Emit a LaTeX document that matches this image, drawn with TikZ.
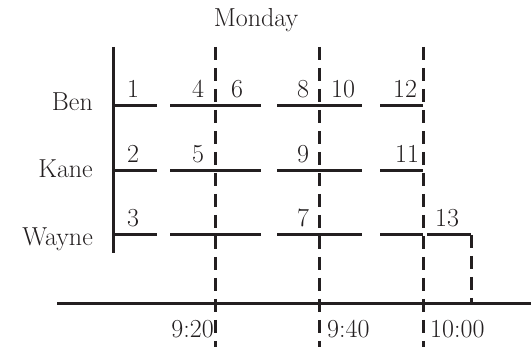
\documentclass[tikz,border=0pt]{standalone}
\usetikzlibrary{positioning}
\definecolor{ink}{RGB}{35,31,32}
\begin{document}
\begin{tikzpicture}[x=1pt,y=-1pt,
    every node/.style={font=\fontsize{26}{30}\selectfont, inner sep=0pt, text=ink},
    slot/.style={ink, line width=3pt},
    timeline/.style={ink, line width=3pt, dash pattern=on 13pt off 8pt}]
  \useasboundingbox (0,0) rectangle (531,347);

  % title and names
  \node[anchor=base] (monday) at (256,27) {Monday};
  \node[anchor=base east] (ben) at (93,111) {Ben};
  \node[anchor=base east] (kane) at (93,178) {Kane};
  \node[anchor=base east] (wayne) at (93,246) {Wayne};

  % axis and left bar
  \coordinate (axisL) at (57,304);
  \coordinate (axisR) at (531,304);
  \draw[slot] (axisL) -- (axisR);
  \coordinate (barT) at (113,47);
  \coordinate (barB) at (113,253);
  \draw[slot] (barT) -- (barB);

  % time lines
  \foreach \x/\n in {215/a, 319/b, 423/c} {
    \coordinate (top\n) at (\x,47);
    \coordinate (bot\n) at (\x,347);
    \draw[timeline] (top\n) -- (bot\n);
  }

  % slots per row
  \foreach \y in {106,171,235} {
    \draw[slot] (113,\y) -- (157,\y);
    \draw[slot] (170,\y) -- (261,\y);
    \draw[slot] (277,\y) -- (362,\y);
    \draw[slot] (380,\y) -- (423,\y);
  }
  \coordinate (endA) at (427,235);
  \coordinate (endB) at (471,235);
  \coordinate (endC) at (471,304);
  \draw[slot] (endA) -- (endB);
  \draw[timeline] (endB) -- (endC);

  % task numbers
  \foreach \x/\y/\t in {133/98/1, 198/98/4, 237/98/6, 303/98/8, 343/98/10, 405/98/12,
                        133/163/2, 198/163/5, 303/163/9, 407/163/11,
                        133/227/3, 303/227/7, 447/227/13} {
    \node[anchor=base] (task\t) at (\x,\y) {\t};
  }

  % times
  \node[anchor=base east] (t920) at (214,338) {9:20};
  \node[anchor=base west] (t940) at (327,338) {9:40};
  \node[anchor=base west] (t1000) at (430,338) {10:00};
\end{tikzpicture}
\end{document}
